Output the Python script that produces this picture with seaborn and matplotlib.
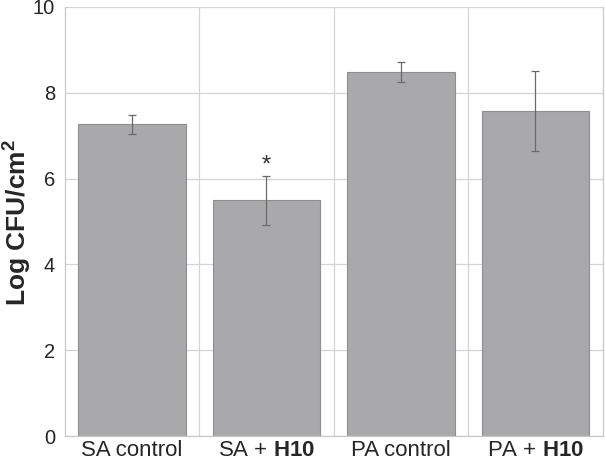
import matplotlib
import numpy as np
import pandas as pd
import seaborn as sns

matplotlib.use("Agg")
import matplotlib.pyplot as plt
from matplotlib.ticker import FixedLocator

groups = ["SA control", "SA + H10", "PA control", "PA + H10"]
tick_labels = ["SA control", "SA + $\\mathbf{H10}$", "PA control", "PA + $\\mathbf{H10}$"]
means = [7.27, 5.50, 8.48, 7.58]
errors = [0.22, 0.57, 0.23, 0.93]
marks = ["", "*", "", ""]

df = pd.DataFrame({"group": groups, "log_cfu": means})

sns.set_style("white")
plt.rcParams["font.family"] = ["Liberation Sans", "DejaVu Sans"]
plt.rcParams["mathtext.fontset"] = "custom"
plt.rcParams["mathtext.bf"] = "Liberation Sans:bold"
plt.rcParams["mathtext.rm"] = "Liberation Sans"

fig = plt.figure(figsize=(6.05, 4.63), dpi=100)
ax = fig.add_axes([0.107, 0.058, 0.889, 0.927])

sns.barplot(data=df, x="group", y="log_cfu", color="#a9a9ab", saturation=1,
            width=0.80, edgecolor="#8e8e90", linewidth=0.8, errorbar=None,
            zorder=2, ax=ax)
ax.errorbar(np.arange(len(means)), means, yerr=errors, fmt="none",
            ecolor="#6a6a6a", elinewidth=0.9, capsize=3, capthick=0.9, zorder=3)
for i, m in enumerate(marks):
    if m:
        ax.text(i, means[i] + errors[i] + 0.24, m, ha="center", va="center",
                fontsize=17, color="#333333")

ax.set_xlim(-0.5, len(groups) - 0.5)
ax.set_ylim(0, 10)
ax.set_yticks([0, 2, 4, 6, 8, 10])
ax.set_xticks(range(len(groups)))
ax.set_xticklabels(tick_labels, fontsize=16)
ax.xaxis.set_minor_locator(FixedLocator([0.5, 1.5, 2.5]))
ax.tick_params(axis="y", labelsize=14.5, length=0, pad=7)
ax.tick_params(axis="x", which="both", length=0, pad=3)
ax.grid(axis="y", color="#d4d4d4", linewidth=0.9, zorder=0)
ax.grid(axis="x", which="minor", color="#d4d4d4", linewidth=0.9, zorder=0)
ax.set_axisbelow(True)
for side in ["left", "right", "top", "bottom"]:
    ax.spines[side].set_color("#c8c8c8")
    ax.spines[side].set_linewidth(0.9)
ax.spines["top"].set_visible(False)
ax.set_xlabel("")
ax.set_ylabel("Log CFU/cm$^{\\mathbf{2}}$", fontsize=19, fontweight="bold")
ax.yaxis.set_label_coords(-0.059, 0.497)

fig.savefig("out.png", dpi=100)
